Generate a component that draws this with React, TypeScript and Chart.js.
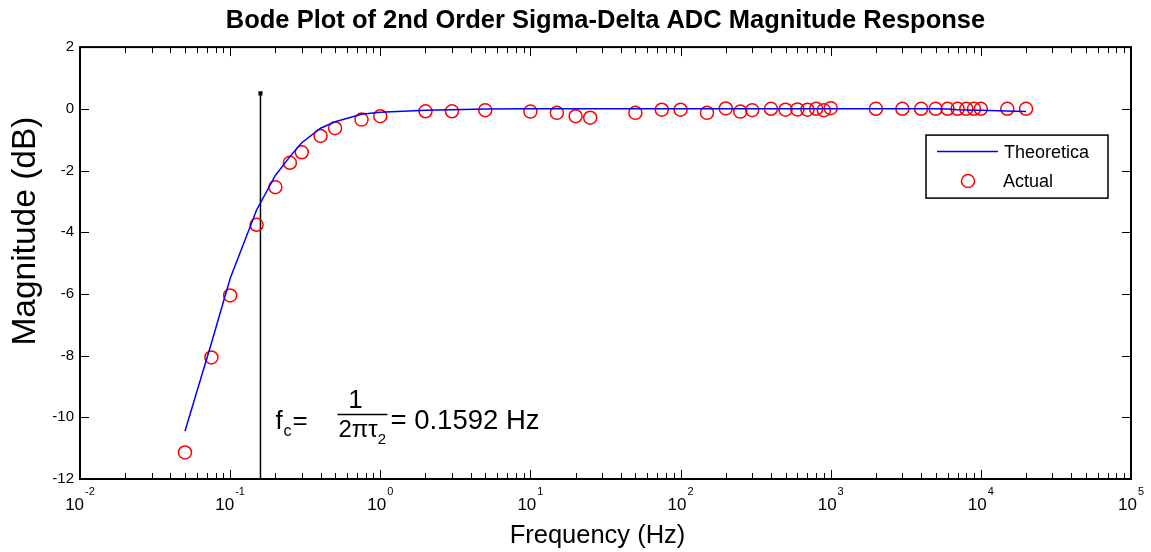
import React, { useEffect, useRef } from 'react';
import { Chart, registerables } from 'chart.js';

Chart.register(...registerables);

const FONT = '"Liberation Sans", Arial, Helvetica, sans-serif';

// Frequencies (Hz) of the measured points
const freqHz = [
  0.05, 0.075, 0.1, 0.15, 0.2, 0.25, 0.3, 0.4, 0.5, 0.75, 1, 2, 3, 5, 10, 15, 20, 25, 50, 75,
  100, 150, 200, 250, 300, 400, 500, 600, 700, 800, 900, 1000, 2000, 3000, 4000, 5000, 6000,
  7000, 8000, 9000, 10000, 15000, 20000,
];
// Measured magnitude (dB)
const actualDb = [
  -11.14, -8.06, -6.05, -3.76, -2.54, -1.75, -1.41, -0.88, -0.63, -0.35, -0.24, -0.08, -0.08,
  -0.045, -0.09, -0.13, -0.24, -0.29, -0.13, -0.03, -0.03, -0.13, 0.01, -0.09, -0.045, 0,
  -0.03, -0.02, -0.03, 0, -0.045, 0.02, 0, 0, 0, 0, 0, 0, 0, 0, 0, 0, 0,
];
// Theoretical magnitude (dB) at the same frequencies
const theoryDb = [
  -10.45, -7.6, -5.5, -3.28, -2.16, -1.55, -1.1, -0.63, -0.42, -0.18, -0.11, -0.05, -0.03,
  -0.01, 0, 0, 0, 0, 0, 0, 0, 0, 0, 0, 0, 0, 0, 0, 0, 0, 0, 0, 0, 0, 0, 0, -0.01, -0.03,
  -0.04, -0.05, -0.05, -0.07, -0.09,
];
// Corner-frequency marker
const fcHz = 0.1592;
const fcLineDb = [-12, 0.5];

const xDecades = [-2, -1, 0, 1, 2, 3, 4, 5];
const yTickValues = [2, 0, -2, -4, -6, -8, -10, -12];
const titleText = 'Bode Plot of 2nd Order Sigma-Delta ADC Magnitude Response';
const xLabel = 'Frequency (Hz)';
const yLabel = 'Magnitude (dB)';
const legendLabels = ['Theoretica', 'Actual'];

const decorPlugin = {
  id: 'decor',
  afterDraw(chart: any) {
    const { ctx, chartArea: ca, scales } = chart;
    const x = scales.x;
    const y = scales.y;
    ctx.save();
    ctx.strokeStyle = '#000';
    ctx.fillStyle = '#000';

    // inward ticks
    ctx.lineWidth = 1;
    ctx.beginPath();
    xDecades.forEach((d) => {
      const base = Math.pow(10, d);
      const px = Math.round(x.getPixelForValue(base)) + 0.5;
      ctx.moveTo(px, ca.bottom);
      ctx.lineTo(px, ca.bottom - 9);
      ctx.moveTo(px, ca.top);
      ctx.lineTo(px, ca.top + 9);
      if (d < 5) {
        for (let m = 2; m <= 9; m++) {
          const pm = Math.round(x.getPixelForValue(base * m)) + 0.5;
          ctx.moveTo(pm, ca.bottom);
          ctx.lineTo(pm, ca.bottom - 6);
          ctx.moveTo(pm, ca.top);
          ctx.lineTo(pm, ca.top + 6);
        }
      }
    });
    yTickValues.forEach((v) => {
      const py = Math.round(y.getPixelForValue(v)) + 0.5;
      ctx.moveTo(ca.left, py);
      ctx.lineTo(ca.left + 9, py);
      ctx.moveTo(ca.right, py);
      ctx.lineTo(ca.right - 9, py);
    });
    ctx.stroke();

    // box
    ctx.lineWidth = 2;
    ctx.strokeRect(ca.left, ca.top, ca.right - ca.left, ca.bottom - ca.top);

    // x tick labels 10^d
    ctx.textBaseline = 'alphabetic';
    ctx.textAlign = 'left';
    xDecades.forEach((d) => {
      const px = x.getPixelForValue(Math.pow(10, d));
      const exp = String(d);
      ctx.font = `17px ${FONT}`;
      const wBase = ctx.measureText('10').width;
      ctx.font = `11px ${FONT}`;
      const wExp = ctx.measureText(exp).width;
      const start = px - (wBase + 1 + wExp) / 2;
      ctx.font = `17px ${FONT}`;
      ctx.fillText('10', start, ca.bottom + 31);
      ctx.font = `11px ${FONT}`;
      ctx.fillText(exp, start + wBase + 1, ca.bottom + 16);
    });

    // axis titles
    ctx.textAlign = 'center';
    ctx.textBaseline = 'middle';
    ctx.font = `25.5px ${FONT}`;
    ctx.fillText(xLabel, (ca.left + ca.right) / 2 - 8, ca.bottom + 57);
    ctx.save();
    ctx.translate(26, ca.top + 184);
    ctx.rotate(-Math.PI / 2);
    ctx.font = `33.5px ${FONT}`;
    ctx.fillText(yLabel, 0, 0);
    ctx.restore();

    // legend
    const lx = ca.right - 205;
    const ly = ca.top + 88;
    ctx.fillStyle = '#fff';
    ctx.fillRect(lx, ly, 182, 63);
    ctx.lineWidth = 1.5;
    ctx.strokeStyle = '#000';
    ctx.strokeRect(lx, ly, 182, 63);
    ctx.strokeStyle = '#0000ff';
    ctx.lineWidth = 1.5;
    ctx.beginPath();
    ctx.moveTo(lx + 11, ly + 16.5);
    ctx.lineTo(lx + 72, ly + 16.5);
    ctx.stroke();
    ctx.strokeStyle = '#ff0000';
    ctx.beginPath();
    ctx.arc(lx + 42, ly + 46, 6.5, 0, Math.PI * 2);
    ctx.stroke();
    ctx.fillStyle = '#000';
    ctx.font = `18px ${FONT}`;
    ctx.textAlign = 'left';
    ctx.textBaseline = 'middle';
    ctx.fillText(legendLabels[0], lx + 78, ly + 17.5);
    ctx.fillText(legendLabels[1], lx + 77, ly + 47);

    // annotation f_c = 1 / (2 pi tau_2) = 0.1592 Hz
    const xf = x.getPixelForValue(fcHz);
    const b = ca.bottom;
    ctx.textBaseline = 'alphabetic';
    ctx.textAlign = 'left';
    ctx.font = `26px ${FONT}`;
    ctx.fillText('f', xf + 15, b - 50);
    ctx.font = `16px ${FONT}`;
    ctx.fillText('c', xf + 23, b - 43);
    ctx.font = `26px ${FONT}`;
    ctx.fillText('=', xf + 32, b - 50);
    ctx.textAlign = 'center';
    ctx.fillText('1', xf + 95, b - 71);
    ctx.textAlign = 'left';
    ctx.font = `24px ${FONT}`;
    ctx.fillText('2\u03c0\u03c4', xf + 78, b - 42);
    const w2 = ctx.measureText('2\u03c0\u03c4').width;
    ctx.font = `15px ${FONT}`;
    ctx.fillText('2', xf + 78 + w2, b - 35);
    ctx.font = `27.5px ${FONT}`;
    ctx.fillText('= 0.1592 Hz', xf + 130, b - 50);
    ctx.lineWidth = 1.5;
    ctx.strokeStyle = '#000';
    ctx.beginPath();
    ctx.moveTo(xf + 77, b - 64.5);
    ctx.lineTo(xf + 127, b - 64.5);
    ctx.stroke();

    ctx.restore();
  },
};

export default function App() {
  const ref = useRef<HTMLCanvasElement | null>(null);

  useEffect(() => {
    if (!ref.current) return;
    const theory = freqHz.map((f, i) => ({ x: f, y: theoryDb[i] }));
    const actual = freqHz.map((f, i) => ({ x: f, y: actualDb[i] }));
    const fcLine = fcLineDb.map((v) => ({ x: fcHz, y: v }));

    const chart = new Chart(ref.current, {
      type: 'scatter',
      data: {
        datasets: [
          {
            label: legendLabels[0],
            data: theory,
            showLine: true,
            borderColor: '#0000ff',
            borderWidth: 1.5,
            pointRadius: 0,
            tension: 0,
          },
          {
            label: legendLabels[1],
            data: actual,
            showLine: false,
            borderColor: '#ff0000',
            backgroundColor: 'rgba(0,0,0,0)',
            borderWidth: 1.5,
            pointRadius: 6.5,
            pointStyle: 'circle',
          },
          {
            label: 'fc',
            data: fcLine,
            showLine: true,
            borderColor: '#000',
            backgroundColor: '#000',
            borderWidth: 1.5,
            pointRadius: [0, 1.8],
            pointStyle: 'rect',
          },
        ],
      },
      options: {
        animation: false,
        responsive: false,
        layout: { padding: { left: 0, right: 20, top: 0, bottom: 0 } },
        plugins: {
          legend: { display: false },
          tooltip: { enabled: false },
          title: {
            display: true,
            text: titleText,
            fullSize: false,
            color: '#000',
            font: { family: FONT, size: 25.5, weight: 'bold' },
            padding: { top: 6, bottom: 10.5 },
          },
        },
        scales: {
          x: {
            type: 'logarithmic',
            min: 0.01,
            max: 100000,
            ticks: { display: false },
            grid: { display: false, drawTicks: false },
            border: { display: false },
            title: { display: false },
            afterFit: (s: any) => {
              s.height = 73;
            },
          },
          y: {
            min: -12,
            max: 2,
            ticks: {
              stepSize: 2,
              color: '#000',
              font: { family: FONT, size: 15 },
              padding: 6,
            },
            grid: { display: false, drawTicks: false },
            border: { display: false },
            title: { display: false },
            afterFit: (s: any) => {
              s.width = 80;
            },
          },
        },
      },
      plugins: [decorPlugin],
    });
    return () => chart.destroy();
  }, []);

  return (
    <div style={{ position: 'absolute', left: 0, top: 0, width: 1151, height: 552, background: '#fff' }}>
      <canvas ref={ref} width={1151} height={552} style={{ display: 'block' }} />
    </div>
  );
}
